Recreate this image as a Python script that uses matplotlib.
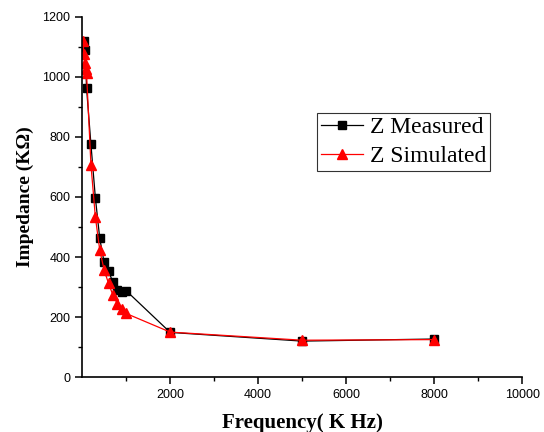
import matplotlib
matplotlib.use("Agg")
import matplotlib.pyplot as plt
from matplotlib.ticker import MultipleLocator, FixedLocator

# measured impedance (black squares)
freq_meas = [50, 70, 100, 200, 300, 400, 500, 600, 700, 800, 900, 1000, 2000, 5000, 8000]
z_meas = [1120, 1090, 963, 775, 598, 462, 382, 353, 316, 290, 282, 288, 149, 120, 127]

# simulated impedance (red triangles)
freq_sim = [20, 40, 60, 80, 100, 200, 300, 400, 500, 600, 700, 800, 900, 1000, 2000, 5000, 8000]
z_sim = [1120, 1075, 1045, 1025, 1012, 707, 534, 423, 357, 312, 273, 245, 227, 212, 150, 123, 125]

xticks = [2000, 4000, 6000, 8000, 10000]
yticks = [0, 200, 400, 600, 800, 1000, 1200]

fig = plt.figure(figsize=(5.44, 4.32), dpi=100)
ax = fig.add_axes([0.151, 0.127, 0.809, 0.834])

ax.plot(freq_meas, z_meas, color="black", lw=0.9, marker="s", ms=5.5,
        label="Z Measured")
ax.plot(freq_sim, z_sim, color="red", lw=0.9, marker="^", ms=7,
        label="Z Simulated")

ax.set_xlim(0, 10000)
ax.set_ylim(0, 1200)
ax.xaxis.set_major_locator(FixedLocator(xticks))
ax.xaxis.set_minor_locator(FixedLocator([1000, 3000, 5000, 7000, 9000]))
ax.yaxis.set_major_locator(FixedLocator(yticks))
ax.yaxis.set_minor_locator(MultipleLocator(100))

for s in ["top", "right"]:
    ax.spines[s].set_visible(False)
for s in ["left", "bottom"]:
    ax.spines[s].set_linewidth(1.2)

ax.tick_params(which="major", direction="out", length=5, width=1.1,
               labelsize=9)
ax.tick_params(which="minor", direction="out", length=3, width=1.0)
for lab in ax.get_xticklabels() + ax.get_yticklabels():
    lab.set_fontfamily("Liberation Sans")

ax.set_xlabel("Frequency( K Hz)", fontfamily="Liberation Serif",
              fontweight="bold", fontsize=15, labelpad=9)
ax.set_ylabel("Impedance (KΩ)", fontfamily="Liberation Serif",
              fontweight="bold", fontsize=14, labelpad=6)

leg = ax.legend(loc="upper left", bbox_to_anchor=(0.534, 0.733),
                prop={"family": "Liberation Serif", "size": 17},
                frameon=True, fancybox=False, edgecolor="black",
                borderaxespad=0, handlelength=1.8, borderpad=0.15,
                labelspacing=0.33, handletextpad=0.3)
leg.get_frame().set_linewidth(0.8)

fig.savefig("out.png", dpi=100)
